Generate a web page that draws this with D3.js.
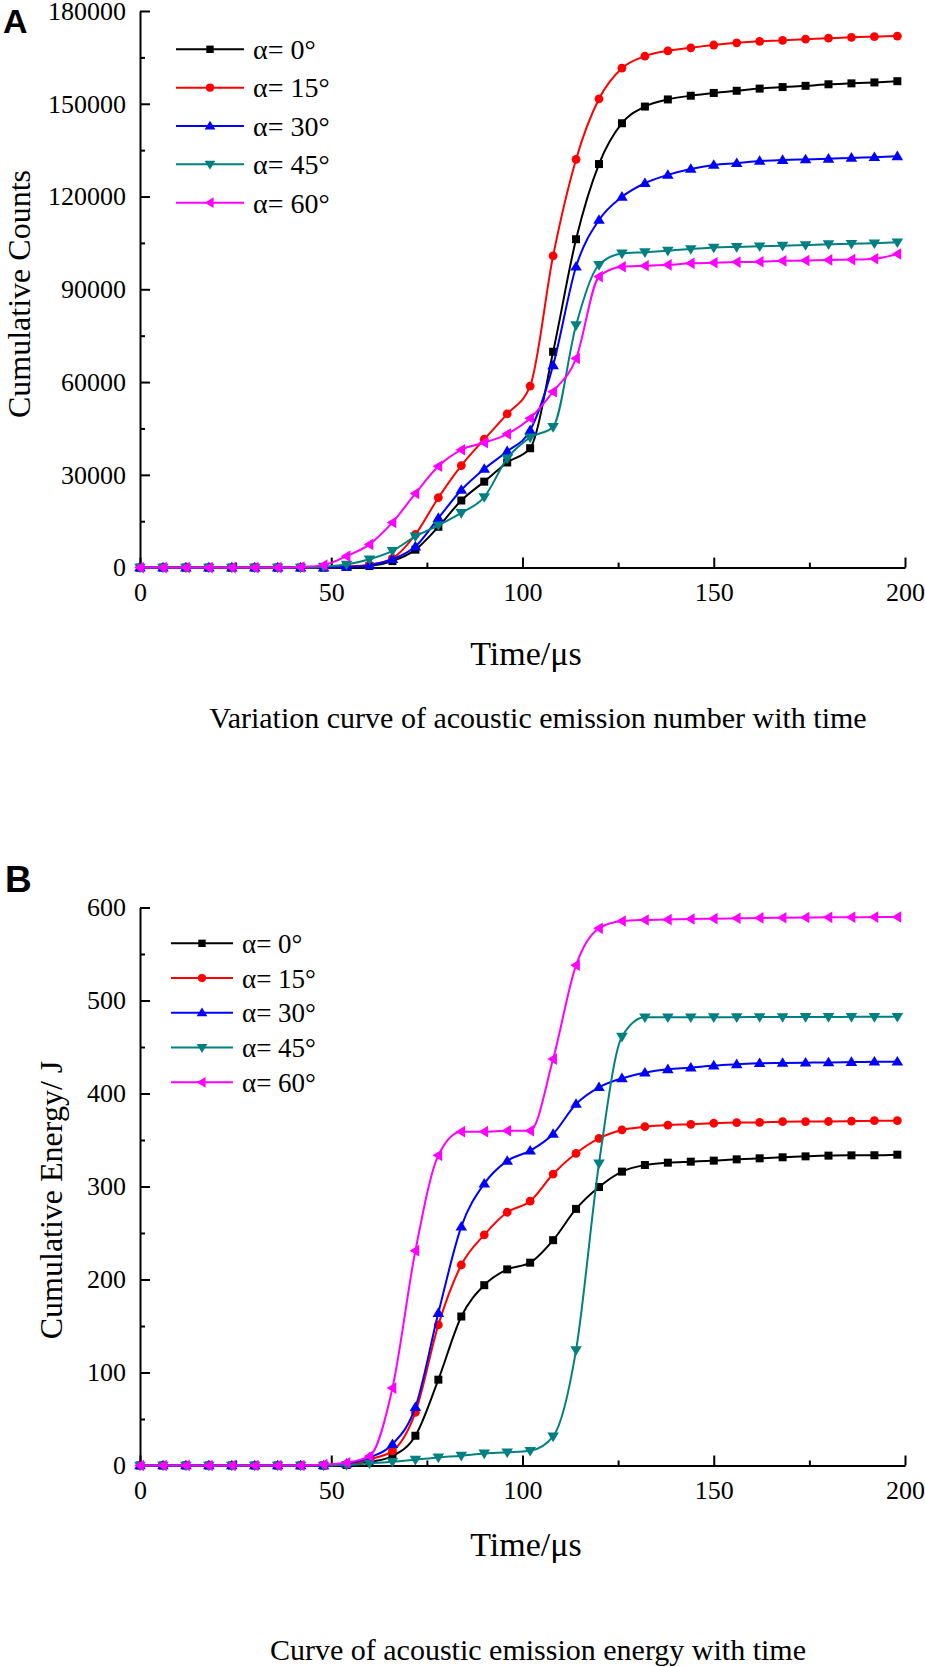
<html>
<head>
  <script src="https://d3js.org/d3.v7.min.js"></script>
  <style>
    body { margin: 0; background: #fff; }
    svg text { font-family: "Liberation Serif", "Times New Roman", serif; fill: #000; }
  </style>
</head>
<body>
  <svg id="chart" width="925" height="1667"></svg>
  <script>
    // time axis (µs), one point every 6 µs
    const times = [0, 6, 12, 18, 24, 30, 36, 42, 48, 54, 60, 66, 72, 78, 84, 90, 96,
      102, 108, 114, 120, 126, 132, 138, 144, 150, 156, 162, 168, 174, 180, 186, 192, 198];

    const angleLabels = ["α= 0°", "α= 15°", "α= 30°", "α= 45°", "α= 60°"];
    const colors = ["#000000", "#ff0000", "#0000ff", "#008080", "#ff00ff"];
    const shapes = ["square", "circle", "up", "down", "left"];

    // Panel A: cumulative counts
    const countsA0 = [0, 0, 0, 0, 0, 0, 0, 0, 0, 200, 500, 2100, 5800, 13200, 21700, 27800, 34000,
      38600, 69800, 106200, 130500, 143700, 149100, 151400, 152600, 153500, 154200, 154900, 155400,
      155800, 156300, 156600, 156900, 157300];
    const countsA15 = [0, 0, 0, 0, 0, 0, 0, 0, 100, 300, 900, 3000, 10700, 22600, 33000, 41500, 49700,
      58700, 100800, 132000, 151600, 161500, 165400, 167100, 168100, 169000, 169700, 170200, 170500,
      170900, 171200, 171500, 171700, 171900];
    const countsA30 = [0, 0, 0, 0, 0, 0, 0, 0, 0, 200, 800, 2700, 6800, 16000, 25100, 31900, 37600,
      44400, 65400, 97300, 112400, 119900, 124300, 127000, 128900, 130200, 130800, 131500, 131800,
      132000, 132200, 132500, 132700, 133000];
    const countsA45 = [0, 0, 0, 0, 0, 0, 0, 0, 300, 1000, 2700, 5400, 10100, 13700, 17700, 22800, 35300,
      42100, 45500, 78400, 97900, 101600, 102000, 102500, 103000, 103500, 103700, 103900, 104100,
      104300, 104600, 104700, 104900, 105200];
    const countsA60 = [0, 0, 0, 0, 0, 0, 0, 200, 800, 3700, 7500, 14600, 24000, 32800, 38100, 40400, 43200,
      48300, 56900, 67600, 94100, 97300, 97600, 97900, 98400, 98600, 98800, 98900, 99200,
      99300, 99500, 99600, 99900, 101400];

    // Panel B: cumulative energy (J)
    const energyB0 = [0, 0, 0, 0, 0, 0, 0, 0, 0, 0.5, 3.8, 10.2, 32, 92.3, 160.2, 193.9, 210.9,
      218.1, 242.3, 275.9, 299.4, 316, 323.1, 325.6, 326.7, 327.8, 329.2, 330.3, 331.4,
      332.4, 333.2, 333.5, 333.6, 334.2];
    const energyB15 = [0, 0, 0, 0, 0, 0, 0, 0, 0, 1, 6.7, 15.7, 57.2, 151.2, 215.6, 248, 272.3,
      284.2, 313.4, 335.7, 351.8, 360.8, 364.3, 366.1, 366.9, 368, 368.7, 368.9, 369.7,
      369.8, 369.9, 370.3, 370.8, 370.8];
    const energyB30 = [0, 0, 0, 0, 0, 0, 0, 0, 0, 2, 8.5, 22.9, 62.7, 163.9, 256.8, 303, 327.5,
      338.5, 356.5, 388.7, 406.7, 416.3, 422.4, 426, 427.8, 430, 431.4, 432.5, 432.8,
      433.1, 433.4, 433.8, 434.2, 434.2];
    const energyB45 = [0, 0, 0, 0, 0, 0, 0, 0, 0, 0.5, 2.3, 4, 6.3, 8.7, 10.6, 13, 14.2,
      15.8, 31.3, 124.1, 324.8, 461.1, 481.9, 482, 482, 482.1, 482.1, 482.2, 482.2,
      482.3, 482.3, 482.4, 482.4, 482.5];
    const energyB60 = [0, 0, 0, 0, 0, 0, 0, 0, 1, 3, 10, 83.2, 231, 333.5, 359, 359, 360,
      360, 437, 538, 577.6, 585.5, 586.6, 587, 587.7, 588, 588.4, 588.8, 589,
      589.2, 589.4, 589.5, 589.7, 589.8];

    const xTicks = [0, 50, 100, 150, 200];
    const yTicksA = [0, 30000, 60000, 90000, 120000, 150000, 180000];
    const yTicksB = [0, 100, 200, 300, 400, 500, 600];

    const serif = "'Liberation Serif', 'Times New Roman', serif";
    const svg = d3.select("#chart");

    function markerPath(shape, s) {
      if (shape === "square") return `M${-s},${-s}h${2 * s}v${2 * s}h${-2 * s}Z`;
      if (shape === "circle") return `M${s + 0.4},0A${s + 0.4},${s + 0.4} 0 1,1 ${-s - 0.4},0A${s + 0.4},${s + 0.4} 0 1,1 ${s + 0.4},0Z`;
      const w = s * 1.45, h = s * 2.4;
      if (shape === "up") return `M0,${-h * 0.6}L${w},${h * 0.4}L${-w},${h * 0.4}Z`;
      if (shape === "down") return `M0,${h * 0.6}L${w},${-h * 0.4}L${-w},${-h * 0.4}Z`;
      if (shape === "left") return `M${-h * 0.6},0L${h * 0.4},${-w}L${h * 0.4},${w}Z`;
    }

    function styleAxis(a) {
      a.attr("font-family", serif).attr("font-size", 26);
      a.select(".domain").attr("stroke-width", 2);
      a.selectAll("line").attr("stroke-width", 2);
      a.selectAll("text").attr("font-size", 26).style("font-family", serif);
    }

    function drawPanel(cfg) {
      const x = d3.scaleLinear().domain([0, 200]).range([140, 905]);
      const y = d3.scaleLinear().domain([0, cfg.yMax]).range([cfg.y0, cfg.y1]);
      const g = svg.append("g");

      // minor ticks
      g.append("g").attr("transform", `translate(0,${cfg.y0})`)
        .call(d3.axisBottom(x).tickValues([25, 75, 125, 175]).tickSize(-5).tickFormat(""))
        .call(a => a.select(".domain").remove())
        .call(a => a.selectAll("line").attr("stroke-width", 2));
      g.append("g").attr("transform", "translate(140,0)")
        .call(d3.axisLeft(y).tickValues(cfg.yTicks.slice(0, -1).map(v => v + cfg.yTicks[1] / 2))
          .tickSize(-5).tickFormat(""))
        .call(a => a.select(".domain").remove())
        .call(a => a.selectAll("line").attr("stroke-width", 2));

      // major axes
      g.append("g").attr("transform", `translate(0,${cfg.y0})`)
        .call(d3.axisBottom(x).tickValues(xTicks).tickSize(-10).tickSizeOuter(0).tickPadding(15)
          .tickFormat(d3.format("d")))
        .call(styleAxis);
      g.append("g").attr("transform", "translate(140,0)")
        .call(d3.axisLeft(y).tickValues(cfg.yTicks).tickSize(-10).tickSizeOuter(0).tickPadding(14)
          .tickFormat(d3.format("d")))
        .call(styleAxis);

      // series
      const line = d3.line()
        .x((d, i) => x(times[i]))
        .y(d => y(d))
        .curve(d3.curveMonotoneX);

      cfg.series.forEach((vals, k) => {
        g.append("path")
          .attr("d", line(vals))
          .attr("fill", "none")
          .attr("stroke", colors[k])
          .attr("stroke-width", 2);
        g.append("g").selectAll("path").data(vals).join("path")
          .attr("d", markerPath(shapes[k], 4))
          .attr("transform", (d, i) => `translate(${x(times[i])},${y(d)})`)
          .attr("fill", colors[k]);
      });

      // legend
      const lg = g.append("g");
      angleLabels.forEach((lab, k) => {
        const ly = cfg.legY + k * cfg.legStep;
        lg.append("line").attr("x1", cfg.legX).attr("x2", cfg.legX + cfg.legLen)
          .attr("y1", ly).attr("y2", ly).attr("stroke", colors[k]).attr("stroke-width", 2);
        lg.append("path").attr("d", markerPath(shapes[k], 3.7))
          .attr("transform", `translate(${cfg.legX + cfg.legLen / 2},${ly})`)
          .attr("fill", colors[k]);
        lg.append("text").attr("x", cfg.legX + cfg.legLen + 9).attr("y", ly)
          .attr("dy", "0.35em").attr("font-size", cfg.legFont)
          .style("font-family", serif).text(lab);
      });

      // titles
      g.append("text")
        .attr("transform", `translate(${cfg.yTitleX},${cfg.yTitleY}) rotate(-90)`)
        .attr("text-anchor", "middle").attr("font-size", 32).style("font-family", serif)
        .text(cfg.yTitle);
      g.append("text").attr("x", 526).attr("y", cfg.xTitleY)
        .attr("text-anchor", "middle").attr("font-size", 34).style("font-family", serif)
        .text("Time/μs");
      g.append("text").attr("x", 538).attr("y", cfg.captionY)
        .attr("text-anchor", "middle").attr("font-size", 30).style("font-family", serif)
        .text(cfg.caption);
      g.append("text").attr("x", cfg.tagX).attr("y", cfg.tagY)
        .attr("font-size", cfg.tagFont).attr("font-weight", "bold")
        .style("font-family", "'Liberation Sans', Arial, sans-serif").text(cfg.tag);
    }

    drawPanel({
      yMax: 180000, y0: 567.6, y1: 11, yTicks: yTicksA,
      series: [countsA0, countsA15, countsA30, countsA45, countsA60],
      legX: 176, legLen: 68, legY: 49.3, legStep: 38.35, legFont: 28,
      yTitle: "Cumulative Counts", yTitleX: 30, yTitleY: 294,
      xTitleY: 665, caption: "Variation curve of acoustic emission number with time", captionY: 728,
      tag: "A", tagX: 3, tagY: 33, tagFont: 34
    });

    drawPanel({
      yMax: 600, y0: 1465.5, y1: 907.5, yTicks: yTicksB,
      series: [energyB0, energyB15, energyB30, energyB45, energyB60],
      legX: 171, legLen: 62, legY: 943.3, legStep: 34.75, legFont: 27,
      yTitle: "Cumulative Energy/ J", yTitleX: 62, yTitleY: 1200,
      xTitleY: 1556, caption: "Curve of acoustic emission energy with time", captionY: 1660,
      tag: "B", tagX: 5, tagY: 892, tagFont: 37
    });
  </script>
</body>
</html>
